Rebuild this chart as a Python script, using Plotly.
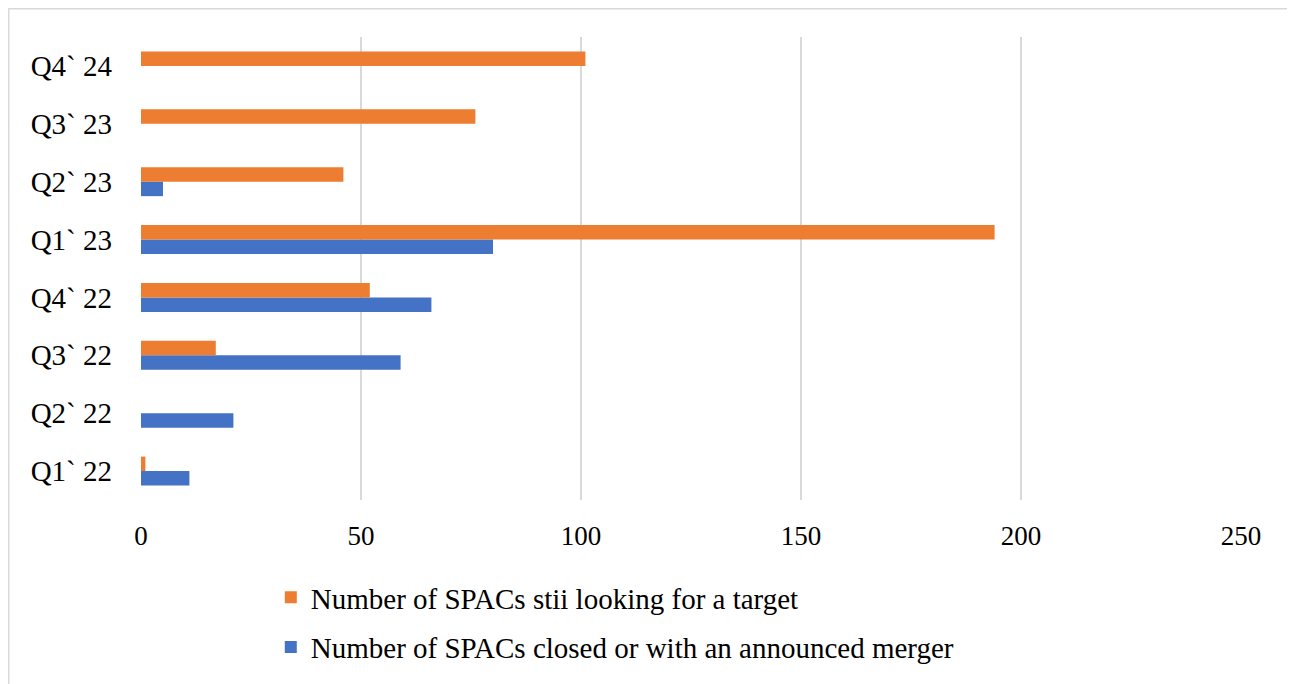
import plotly.graph_objects as go

categories = ["Q1` 22", "Q2` 22", "Q3` 22", "Q4` 22", "Q1` 23", "Q2` 23", "Q3` 23", "Q4` 24"]
closed_or_merger = [11, 21, 59, 66, 80, 5, 0, 0]
still_looking = [1, 0, 17, 52, 194, 46, 76, 101]
x_ticks = [0, 50, 100, 150, 200, 250]

series_blue = "Number of SPACs closed or with an announced merger"
series_orange = "Number of SPACs stii looking for a target"

FONT = "Liberation Serif, Times New Roman, serif"

W, H = 1287, 676
L, R, T, B = 133, 54, 29, 184
PW, PH = W - L - R, H - T - B

fig = go.Figure()
fig.add_trace(go.Bar(
    y=categories, x=closed_or_merger, orientation="h", name=series_blue,
    marker=dict(color="#4472C4", line=dict(width=0)), legendgroup="b",
    legendrank=2,
))
fig.add_trace(go.Bar(
    y=categories, x=still_looking, orientation="h", name=series_orange,
    marker=dict(color="#ED7D31", line=dict(width=0)), legendgroup="o",
    legendrank=1,
))

fig.update_layout(
    width=W, height=H,
    margin=dict(l=L, r=R, t=T, b=B, autoexpand=False),
    paper_bgcolor="white", plot_bgcolor="white",
    barmode="group", bargap=0.5, bargroupgap=0,
    font=dict(family=FONT, size=26, color="black"),
    showlegend=True,
    legend=dict(
        orientation="v", traceorder="grouped", tracegroupgap=9,
        xref="paper", x=0.118, xanchor="left",
        yref="container", y=0.1657, yanchor="top",
        font=dict(family=FONT, size=29, color="black"),
        itemsizing="constant",
    ),
    xaxis=dict(
        range=[0, 250], tickvals=x_ticks, ticktext=[str(v) for v in x_ticks],
        showgrid=True, gridcolor="#d9d9d9", gridwidth=1.5,
        zeroline=False, showline=False, ticks="",
        tickfont=dict(family=FONT, size=27, color="black"),
        ticklabelstandoff=17,
    ),
    yaxis=dict(
        categoryorder="array", categoryarray=categories,
        showgrid=False, zeroline=False, showline=False, ticks="",
        tickfont=dict(family=FONT, size=29, color="black"),
        ticklabelstandoff=28,
    ),
    shapes=[dict(
        type="rect", xref="paper", yref="paper",
        x0=(0.75 - L) / PW, x1=(W + 20 - L) / PW,
        y0=(PH - (H + 20 - T)) / PH, y1=(PH - (0.75 - T)) / PH,
        line=dict(color="#d9d9d9", width=1.5), fillcolor="rgba(0,0,0,0)",
        layer="below",
    )],
)

fig.write_html("out.html")
